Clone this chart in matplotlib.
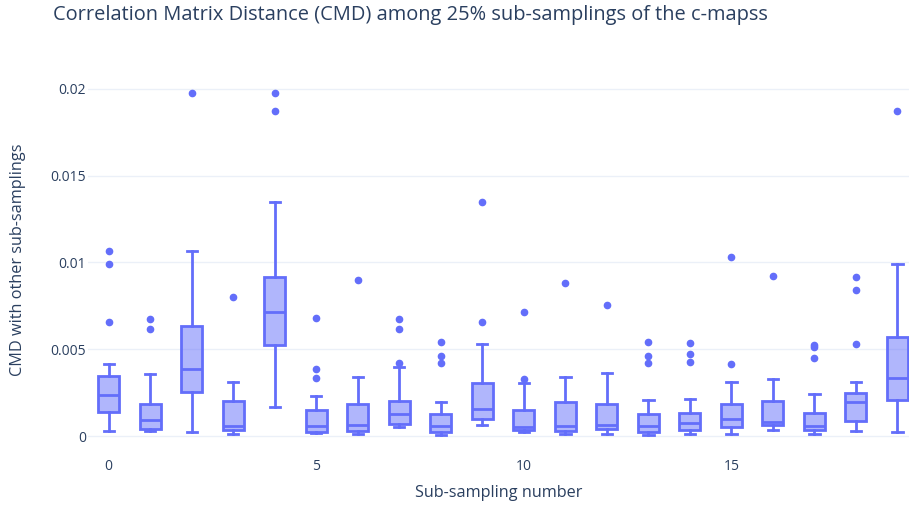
import matplotlib
matplotlib.use("Agg")
import matplotlib.pyplot as plt

# box statistics (one entry per sub-sampling)
samplings = list(range(20))
whislo = [0.00029, 0.00029, 0.00023, 0.00015, 0.00169, 0.00017, 0.00012, 0.00054, 0.00006, 0.00063,
          0.00021, 0.00010, 0.00015, 0.00006, 0.00015, 0.00015, 0.00033, 0.00015, 0.00029, 0.00025]
q1 = [0.00137, 0.00042, 0.00254, 0.00036, 0.00524, 0.00025, 0.00031, 0.00069, 0.00025, 0.00096,
      0.00033, 0.00027, 0.00040, 0.00023, 0.00033, 0.00054, 0.00063, 0.00035, 0.00086, 0.00207]
med = [0.00236, 0.00090, 0.00386, 0.00059, 0.00713, 0.00059, 0.00065, 0.00127, 0.00059, 0.00154,
       0.00054, 0.00059, 0.00065, 0.00059, 0.00077, 0.00096, 0.00083, 0.00059, 0.00198, 0.00334]
q3 = [0.00346, 0.00184, 0.00632, 0.00200, 0.00915, 0.00148, 0.00183, 0.00202, 0.00129, 0.00305,
      0.00152, 0.00198, 0.00184, 0.00129, 0.00133, 0.00186, 0.00202, 0.00134, 0.00250, 0.00573]
whishi = [0.00415, 0.00357, 0.01064, 0.00313, 0.01347, 0.00229, 0.00342, 0.00398, 0.00198, 0.00528,
          0.00304, 0.00342, 0.00361, 0.00207, 0.00215, 0.00311, 0.00327, 0.00240, 0.00311, 0.00993]
outliers = [
    [0.01064, 0.00993, 0.00657],
    [0.00672, 0.00615],
    [0.01975],
    [0.00801],
    [0.01975, 0.01873],
    [0.00678, 0.00384, 0.00334],
    [0.00899],
    [0.00676, 0.00615, 0.00423],
    [0.00542, 0.00459, 0.00423],
    [0.01349, 0.00657],
    [0.00715, 0.00327],
    [0.00884],
    [0.00755],
    [0.00542, 0.00461, 0.00419],
    [0.00538, 0.00473, 0.00427],
    [0.01030, 0.00417],
    [0.00920],
    [0.00524, 0.00515, 0.00450],
    [0.00915, 0.00841, 0.00530],
    [0.01873],
]

stats = []
for i in samplings:
    stats.append({"whislo": whislo[i], "q1": q1[i], "med": med[i], "q3": q3[i],
                  "whishi": whishi[i], "fliers": outliers[i]})

blue = "#636efa"
txt = "#2a3f5f"
plt.rcParams["font.family"] = ["Open Sans", "DejaVu Sans"]

fig = plt.figure(figsize=(9.09, 5.07), dpi=100)
ax = fig.add_axes([0.0968, 0.109, 0.9032, 0.757])

ax.bxp(stats, positions=samplings, widths=0.5, capwidths=0.25, patch_artist=True,
       boxprops=dict(facecolor=(99/255, 110/255, 250/255, 0.5), edgecolor=blue, linewidth=2),
       medianprops=dict(color=blue, linewidth=2),
       whiskerprops=dict(color=blue, linewidth=2),
       capprops=dict(color=blue, linewidth=2),
       flierprops=dict(marker="o", markerfacecolor=blue, markeredgecolor=blue, markersize=4.5))

ax.set_xlim(-0.5, 19.28)
ax.set_ylim(-0.0009, 0.0212)
ax.set_xticks([0, 5, 10, 15])
ax.set_xticklabels(["0", "5", "10", "15"])
ax.set_yticks([0, 0.005, 0.01, 0.015, 0.02])
ax.set_yticklabels(["0", "0.005", "0.01", "0.015", "0.02"])
ax.tick_params(axis="both", length=0, labelsize=10, labelcolor=txt)
ax.tick_params(axis="x", pad=5)
ax.tick_params(axis="y", pad=1.5)
ax.grid(axis="y", color="#EBF0F8", linewidth=1)
ax.set_axisbelow(True)
for s in ax.spines.values():
    s.set_visible(False)

ax.set_xlabel("Sub-sampling number", fontsize=11.7, color=txt)
ax.set_ylabel("CMD with other sub-samplings", fontsize=11.7, color=txt)
ax.xaxis.set_label_coords(0.5, -0.108)
ax.xaxis.label.set_va("center")
ax.yaxis.set_label_coords(-0.0853, 0.5)
ax.yaxis.label.set_va("center")
fig.text(0.058, 0.97, "Correlation Matrix Distance (CMD) among 25% sub-samplings of the c-mapss",
         fontsize=14.4, color=txt, va="center", ha="left")

fig.savefig("out.png", dpi=100)
